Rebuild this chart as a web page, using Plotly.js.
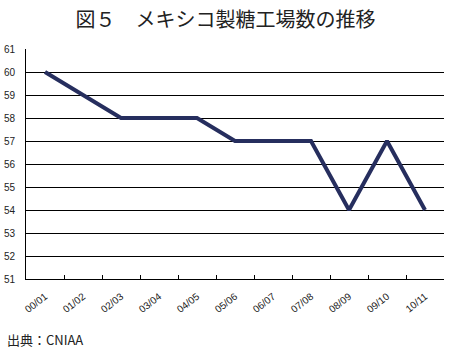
<!DOCTYPE html>
<html><head><meta charset="utf-8">
<script src="https://cdn.plot.ly/plotly-3.0.1.min.js"></script>
<style>html,body{margin:0;padding:0;background:#fff;}#chart{width:451px;height:351px;}</style>
</head><body><div id="chart"></div>
<script>
const seasons = ["00/01","01/02","02/03","03/04","04/05","05/06","06/07","07/08","08/09","09/10","10/11"];
const mills = [60,59,58,58,58,57,57,57,54,57,54];
const yTicks = [51,52,53,54,55,56,57,58,59,60,61];

const trace = {
  x: seasons, y: mills, type: "scatter", mode: "lines",
  line: {color: "#262e5e", width: 4}, hoverinfo: "skip"
};
const layout = {
  width: 451, height: 351,
  margin: {l: 26, r: 7, t: 49, b: 72},
  paper_bgcolor: "#fff", plot_bgcolor: "#fff",
  showlegend: false,
  font: {family: "Liberation Sans, Arial, sans-serif", color: "#222"},
  title: {text: "図５　メキシコ製糖工場数の推移", x: 0.5, xanchor: "center", y: 0.943, yanchor: "middle",
          font: {family: "Noto Sans CJK JP", size: 20, color: "#222"}},
  xaxis: {
    type: "category", tickson: "boundaries", ticks: "inside", ticklen: 4, tickcolor: "#000", tickwidth: 1,
    showline: true, linecolor: "#000", linewidth: 1, showgrid: false, zeroline: false,
    tickangle: -38, tickfont: {size: 10, color: "#222"}, range: [-0.5, 10.5], ticklabelstandoff: 7
  },
  yaxis: {
    range: [51, 61], tickvals: yTicks, ticktext: yTicks.map(String), ticks: "",
    showline: true, linecolor: "#000", linewidth: 1, showgrid: true, gridcolor: "#000", gridwidth: 1,
    zeroline: false, tickfont: {size: 10, color: "#222"}, ticklabelstandoff: 8
  },
  annotations: [{
    text: "出典：CNIAA", xref: "paper", yref: "paper", x: -0.05, y: -0.261, xanchor: "left", yanchor: "middle",
    showarrow: false, font: {family: "Noto Sans CJK JP", size: 13, color: "#222"}
  }]
};
Plotly.newPlot("chart", [trace], layout, {staticPlot: true});
</script></body></html>
